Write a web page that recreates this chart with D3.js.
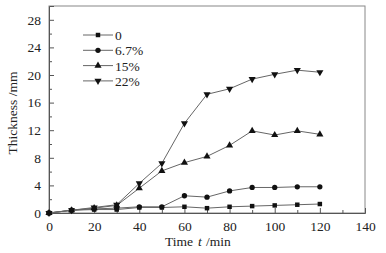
<!DOCTYPE html>
<html><head><meta charset="utf-8">
<script src="https://cdn.jsdelivr.net/npm/d3@7"></script>
<style>
body{margin:0;background:#fff;}
svg text{font-family:"Liberation Serif","Times New Roman",serif !important;}
</style></head>
<body><svg id="c" width="386" height="253"></svg>
<script>
const times = [0,10,20,30,40,50,60,70,80,90,100,110,120];
const seriesNames = ["0","6.7%","15%","22%"];
const s0   = [0,0.4,0.5,0.5,0.8,0.8,0.9,0.7,0.9,1.0,1.1,1.2,1.3];
const s67  = [0,0.4,0.6,0.7,0.9,0.9,2.5,2.3,3.2,3.7,3.7,3.8,3.8];
const s15  = [0,0.4,0.7,1.1,3.6,6.1,7.3,8.2,9.8,11.9,11.3,11.9,11.4];
const s22  = [0,0.4,0.8,1.2,4.3,7.2,13.0,17.2,18.0,19.4,20.1,20.7,20.4];
const xTicks = [0,20,40,60,80,100,120,140];
const yTicks = [0,4,8,12,16,20,24,28];

const svg = d3.select("#c");
const L=49, R=365, T=6, B=213;
const x = d3.scaleLinear().domain([0,140]).range([L,R]);
const y = d3.scaleLinear().domain([0,30]).range([B,T]);
const axisColor = "#555";
const FF = "Liberation Serif";

svg.append("rect").attr("x",L).attr("y",T).attr("width",R-L).attr("height",B-T)
  .attr("fill","none").attr("stroke","#888").attr("stroke-width",1);

const gx = svg.append("g").attr("transform",`translate(0,${B})`)
  .call(d3.axisBottom(x).tickValues(xTicks).tickSize(-5).tickPadding(8).tickFormat(d3.format("d")));
gx.attr("font-family",FF);
gx.select(".domain").attr("stroke",axisColor);
gx.selectAll(".tick line").attr("stroke",axisColor);
gx.selectAll("text").attr("font-size","13.5px").attr("fill","#222");
const gxm = svg.append("g").attr("transform",`translate(0,${B})`)
  .call(d3.axisBottom(x).tickValues(d3.range(10,140,20)).tickSize(-3).tickFormat(""));
gxm.select(".domain").remove();
gxm.selectAll(".tick line").attr("stroke",axisColor);

const gy = svg.append("g").attr("transform",`translate(${L},0)`)
  .call(d3.axisLeft(y).tickValues(yTicks).tickSize(-5).tickPadding(8).tickFormat(d3.format("d")));
gy.attr("font-family",FF);
gy.select(".domain").attr("stroke",axisColor);
gy.selectAll(".tick line").attr("stroke",axisColor);
gy.selectAll("text").attr("font-size","13.5px").attr("fill","#222");
const gym = svg.append("g").attr("transform",`translate(${L},0)`)
  .call(d3.axisLeft(y).tickValues(d3.range(2,30,4)).tickSize(-3).tickFormat(""));
gym.select(".domain").remove();
gym.selectAll(".tick line").attr("stroke",axisColor);

// axis titles
svg.append("text").attr("x",165).attr("y",246).attr("font-size","13.5px").attr("fill","#222").attr("font-family",FF).text("Time");
svg.append("text").attr("x",198).attr("y",246).attr("font-size","13.5px").attr("fill","#222").attr("font-family",FF)
  .attr("font-style","italic").text("t");
svg.append("text").attr("x",206).attr("y",246).attr("font-size","13.5px").attr("fill","#222").attr("font-family",FF).text("/min");
svg.append("text").attr("transform","translate(17,113) rotate(-90)").attr("text-anchor","middle")
  .attr("font-size","13.5px").attr("fill","#222").attr("font-family",FF).text("Thickness /mm");

const data = [s0,s67,s15,s22];
const symbols = [
  d3.symbol().type(d3.symbolSquare).size(20),
  d3.symbol().type(d3.symbolCircle).size(22),
  d3.symbol().type(d3.symbolTriangle).size(22),
  d3.symbol().type(d3.symbolTriangle).size(22)
];
const rot = [0,0,0,180];
const line = d3.line().x((d,i)=>x(times[i])).y(d=>y(d));

data.forEach((s,k)=>{
  svg.append("path").attr("d",line(s)).attr("fill","none").attr("stroke","#666").attr("stroke-width",1);
});
data.forEach((s,k)=>{
  svg.append("g").selectAll("path").data(s).join("path")
    .attr("d",symbols[k])
    .attr("transform",(d,i)=>`translate(${x(times[i])},${y(d)}) rotate(${rot[k]})`)
    .attr("fill","#111");
});

seriesNames.forEach((n,k)=>{
  const yy = 35 + k*15.3;
  svg.append("line").attr("x1",83).attr("x2",113).attr("y1",yy).attr("y2",yy).attr("stroke","#666");
  svg.append("path").attr("d",symbols[k]).attr("transform",`translate(98,${yy}) rotate(${rot[k]})`).attr("fill","#111");
  svg.append("text").attr("x",115).attr("y",yy+5).attr("font-size","13.5px").attr("fill","#222").attr("font-family",FF).text(n);
});
</script></body></html>
